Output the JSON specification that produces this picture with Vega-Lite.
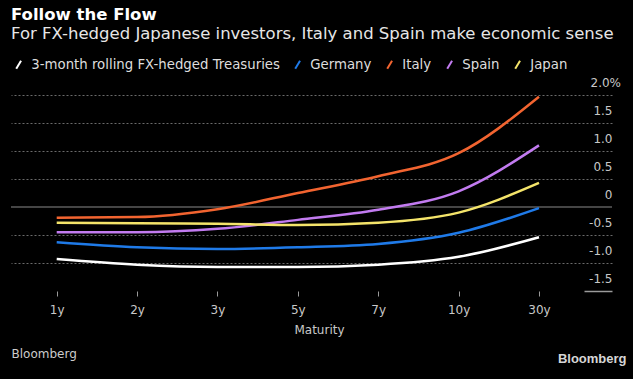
{
  "$schema": "https://vega.github.io/schema/vega-lite/v6.json",
  "width": 601,
  "height": 196,
  "autosize": {"type": "none"},
  "padding": {"left": 11, "top": 95, "right": 21, "bottom": 88},
  "background": "#000000",
  "config": {"view": {"stroke": null}, "font": "DejaVu Sans"},
  "title": {
    "text": "Follow the Flow",
    "subtitle": "For FX-hedged Japanese investors, Italy and Spain make economic sense",
    "anchor": "start",
    "frame": "group",
    "color": "#ffffff",
    "fontSize": 16.5,
    "fontWeight": "bold",
    "font": "DejaVu Sans",
    "subtitleColor": "#e6e6e6",
    "subtitleFontSize": 16.5,
    "subtitleFont": "DejaVu Sans",
    "subtitlePadding": 2,
    "offset": 16
  },
  "layer": [
    {
      "data": {"values": [{"zero": 0}]},
      "mark": {"type": "rule", "color": "#8a8a8a", "strokeWidth": 1},
      "encoding": {
        "y": {
          "field": "zero",
          "type": "quantitative",
          "scale": {"domain": [-1.5, 2.0], "nice": false, "zero": false},
          "axis": {
            "orient": "left",
            "labels": false,
            "ticks": false,
            "domain": false,
            "grid": false,
            "title": "Bloomberg",
            "titleAngle": 0,
            "titleAlign": "left",
            "titleBaseline": "middle",
            "titleX": 0,
            "titleY": 258,
            "titleColor": "#cccccc",
            "titleFontSize": 12,
            "titleFontWeight": "normal",
            "titleFont": "DejaVu Sans"
          }
        }
      }
    },
    {
      "data": {
        "values": [
          {"maturity": "1y", "series": "3-month rolling FX-hedged Treasuries", "yield": -0.93},
          {"maturity": "2y", "series": "3-month rolling FX-hedged Treasuries", "yield": -1.03},
          {"maturity": "3y", "series": "3-month rolling FX-hedged Treasuries", "yield": -1.07},
          {"maturity": "5y", "series": "3-month rolling FX-hedged Treasuries", "yield": -1.07},
          {"maturity": "7y", "series": "3-month rolling FX-hedged Treasuries", "yield": -1.03},
          {"maturity": "10y", "series": "3-month rolling FX-hedged Treasuries", "yield": -0.89},
          {"maturity": "30y", "series": "3-month rolling FX-hedged Treasuries", "yield": -0.54},
          {"maturity": "1y", "series": "Germany", "yield": -0.63},
          {"maturity": "2y", "series": "Germany", "yield": -0.72},
          {"maturity": "3y", "series": "Germany", "yield": -0.75},
          {"maturity": "5y", "series": "Germany", "yield": -0.72},
          {"maturity": "7y", "series": "Germany", "yield": -0.66},
          {"maturity": "10y", "series": "Germany", "yield": -0.46},
          {"maturity": "30y", "series": "Germany", "yield": -0.02},
          {"maturity": "1y", "series": "Italy", "yield": -0.19},
          {"maturity": "2y", "series": "Italy", "yield": -0.18},
          {"maturity": "3y", "series": "Italy", "yield": -0.04},
          {"maturity": "5y", "series": "Italy", "yield": 0.25},
          {"maturity": "7y", "series": "Italy", "yield": 0.55},
          {"maturity": "10y", "series": "Italy", "yield": 0.96},
          {"maturity": "30y", "series": "Italy", "yield": 1.97},
          {"maturity": "1y", "series": "Spain", "yield": -0.45},
          {"maturity": "2y", "series": "Spain", "yield": -0.45},
          {"maturity": "3y", "series": "Spain", "yield": -0.39},
          {"maturity": "5y", "series": "Spain", "yield": -0.23},
          {"maturity": "7y", "series": "Spain", "yield": -0.05},
          {"maturity": "10y", "series": "Spain", "yield": 0.28},
          {"maturity": "30y", "series": "Spain", "yield": 1.10},
          {"maturity": "1y", "series": "Japan", "yield": -0.28},
          {"maturity": "2y", "series": "Japan", "yield": -0.29},
          {"maturity": "3y", "series": "Japan", "yield": -0.30},
          {"maturity": "5y", "series": "Japan", "yield": -0.32},
          {"maturity": "7y", "series": "Japan", "yield": -0.28},
          {"maturity": "10y", "series": "Japan", "yield": -0.10},
          {"maturity": "30y", "series": "Japan", "yield": 0.43}
        ]
      },
      "mark": {"type": "line", "interpolate": "monotone", "strokeWidth": 2.5},
      "encoding": {
        "x": {
          "field": "maturity",
          "type": "ordinal",
          "sort": ["1y", "2y", "3y", "5y", "7y", "10y", "30y"],
          "scale": {"type": "point", "domain": ["1y", "2y", "3y", "5y", "7y", "10y", "30y"], "padding": 0.7385, "align": 0.385},
          "axis": {
            "labelAngle": 0,
            "domain": false,
            "grid": false,
            "ticks": true,
            "tickSize": 5,
            "tickColor": "#9a9a9a",
            "labelColor": "#c8c8c8",
            "labelFontSize": 12,
            "labelPadding": 8,
            "title": "Maturity",
            "titleColor": "#c8c8c8",
            "titleFontSize": 12,
            "titleFontWeight": "normal",
            "titlePadding": 9,
            "titleX": 308
          }
        },
        "y": {
          "field": "yield",
          "type": "quantitative",
          "scale": {"domain": [-1.5, 2.0], "nice": false, "zero": false},
          "axis": {
            "orient": "right",
            "values": [-1.5, -1, -0.5, 0, 0.5, 1, 1.5, 2],
            "domain": false,
            "grid": true,
            "gridColor": "#6a6a6a",
            "gridDash": [2, 2],
            "gridWidth": 1,
            "gridOpacity": {"condition": {"test": "datum.value === 0 || datum.value === -1.5", "value": 0}, "value": 1},
            "ticks": true,
            "tickSize": -28,
            "tickWidth": 1.5,
            "tickColor": "#9a9a9a",
            "tickOpacity": {"condition": {"test": "datum.value === -1.5", "value": 1}, "value": 0},
            "labelAlign": "right",
            "labelBaseline": "alphabetic",
            "labelOffset": -8.5,
            "labelPadding": {"condition": {"test": "datum.value === 2", "value": 36.5}, "value": 28},
            "labelExpr": "datum.value === 2 ? '2.0%' : (datum.value === 0 ? '0' : (datum.value < 0 ? '-' + format(-datum.value, '.1f') : format(datum.value, '.1f')))",
            "labelFontSize": 12,
            "labelColor": "#c8c8c8",
            "title": "Bloomberg",
            "titleAngle": 0,
            "titleAlign": "right",
            "titleBaseline": "middle",
            "titleX": 14,
            "titleY": 263,
            "titleColor": "#d6d6d6",
            "titleFont": "Liberation Sans",
            "titleFontSize": 13,
            "titleFontWeight": "bold"
          }
        },
        "color": {
          "field": "series",
          "type": "nominal",
          "scale": {
            "domain": ["3-month rolling FX-hedged Treasuries", "Germany", "Italy", "Spain", "Japan"],
            "range": ["#ffffff", "#1f7ae8", "#f26430", "#c27bf0", "#f4e46a"]
          },
          "legend": {
            "orient": "none",
            "legendX": 1,
            "legendY": -37,
            "direction": "horizontal",
            "title": null,
            "symbolType": "M-0.6,1L0.6,-1",
            "symbolSize": 64,
            "symbolStrokeWidth": 2,
            "labelFontSize": 13.3,
            "labelColor": "#dddddd",
            "labelOffset": 6,
            "labelLimit": 300,
            "columnPadding": 11
          }
        }
      }
    }
  ],
  "resolve": {"axis": {"y": "independent"}}
}
